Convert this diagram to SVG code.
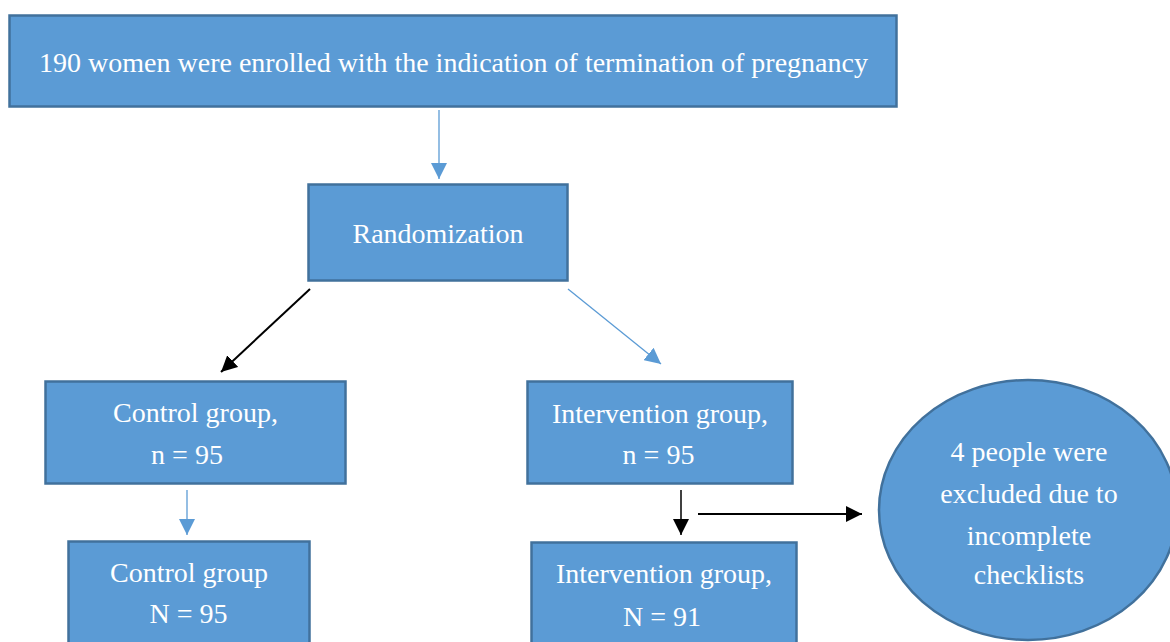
<svg xmlns="http://www.w3.org/2000/svg" width="1170" height="642" viewBox="0 0 1170 642">
<style>
.box{fill:#5B9BD5;stroke:#41719C;stroke-width:2.5}
.t{font-family:"Liberation Serif","Times New Roman",serif;font-size:28px;fill:#ffffff;text-anchor:middle}
.blue{stroke:#5B9BD5;stroke-width:1.3;fill:none}
.black{stroke:#000000;stroke-width:2;fill:none}
</style>
<defs>
<marker id="ab" viewBox="0 0 16 16" markerWidth="16" markerHeight="16" refX="16" refY="8" orient="auto" markerUnits="userSpaceOnUse"><path d="M0,0 L16,8 L0,16 z" fill="#5B9BD5"/></marker>
<marker id="ak" viewBox="0 0 16 16" markerWidth="16" markerHeight="16" refX="16" refY="8" orient="auto" markerUnits="userSpaceOnUse"><path d="M0,0 L16,8 L0,16 z" fill="#000000"/></marker>
</defs>
<rect width="1170" height="642" fill="#ffffff"/>
<g id="connectors">
<line class="blue" x1="439" y1="110" x2="439" y2="179" marker-end="url(#ab)"/>
<line class="black" x1="310" y1="289" x2="221" y2="372" marker-end="url(#ak)"/>
<line class="blue" x1="568" y1="289" x2="661" y2="364" marker-end="url(#ab)"/>
<line class="blue" x1="187" y1="490" x2="187" y2="535" marker-end="url(#ab)"/>
<line class="black" x1="681" y1="490" x2="681" y2="535" style="stroke-width:1.5" marker-end="url(#ak)"/>
<line class="black" x1="698" y1="514" x2="862" y2="514" marker-end="url(#ak)"/>
</g>
<g id="enrolled">
<rect class="box" x="9.5" y="15.5" width="887" height="91"/>
<text class="t" x="453.5" y="72">190 women were enrolled with the indication of termination of pregnancy</text>
</g>
<g id="randomization">
<rect class="box" x="308.5" y="184.5" width="259" height="96"/>
<text class="t" x="438" y="243">Randomization</text>
</g>
<g id="control">
<rect class="box" x="45.5" y="381.5" width="300" height="102"/>
<text class="t" x="195.5" y="422">Control group,</text>
<text class="t" x="187" y="464">n = 95</text>
</g>
<g id="intervention">
<rect class="box" x="527.5" y="381.5" width="265" height="102"/>
<text class="t" x="660" y="423">Intervention group,</text>
<text class="t" x="658.5" y="464">n = 95</text>
</g>
<g id="control-final">
<rect class="box" x="68.5" y="541.5" width="241" height="110"/>
<text class="t" x="189" y="582">Control group</text>
<text class="t" x="188.5" y="623">N = 95</text>
</g>
<g id="intervention-final">
<rect class="box" x="531.5" y="542.5" width="265" height="110"/>
<text class="t" x="664" y="583">Intervention group,</text>
<text class="t" x="662" y="626">N = 91</text>
</g>
<g id="excluded">
<ellipse class="box" cx="1028" cy="510" rx="149" ry="130"/>
<text class="t" x="1029" y="461">4 people were</text>
<text class="t" x="1029" y="503">excluded due to</text>
<text class="t" x="1029" y="545">incomplete</text>
<text class="t" x="1029" y="584">checklists</text>
</g>
</svg>
